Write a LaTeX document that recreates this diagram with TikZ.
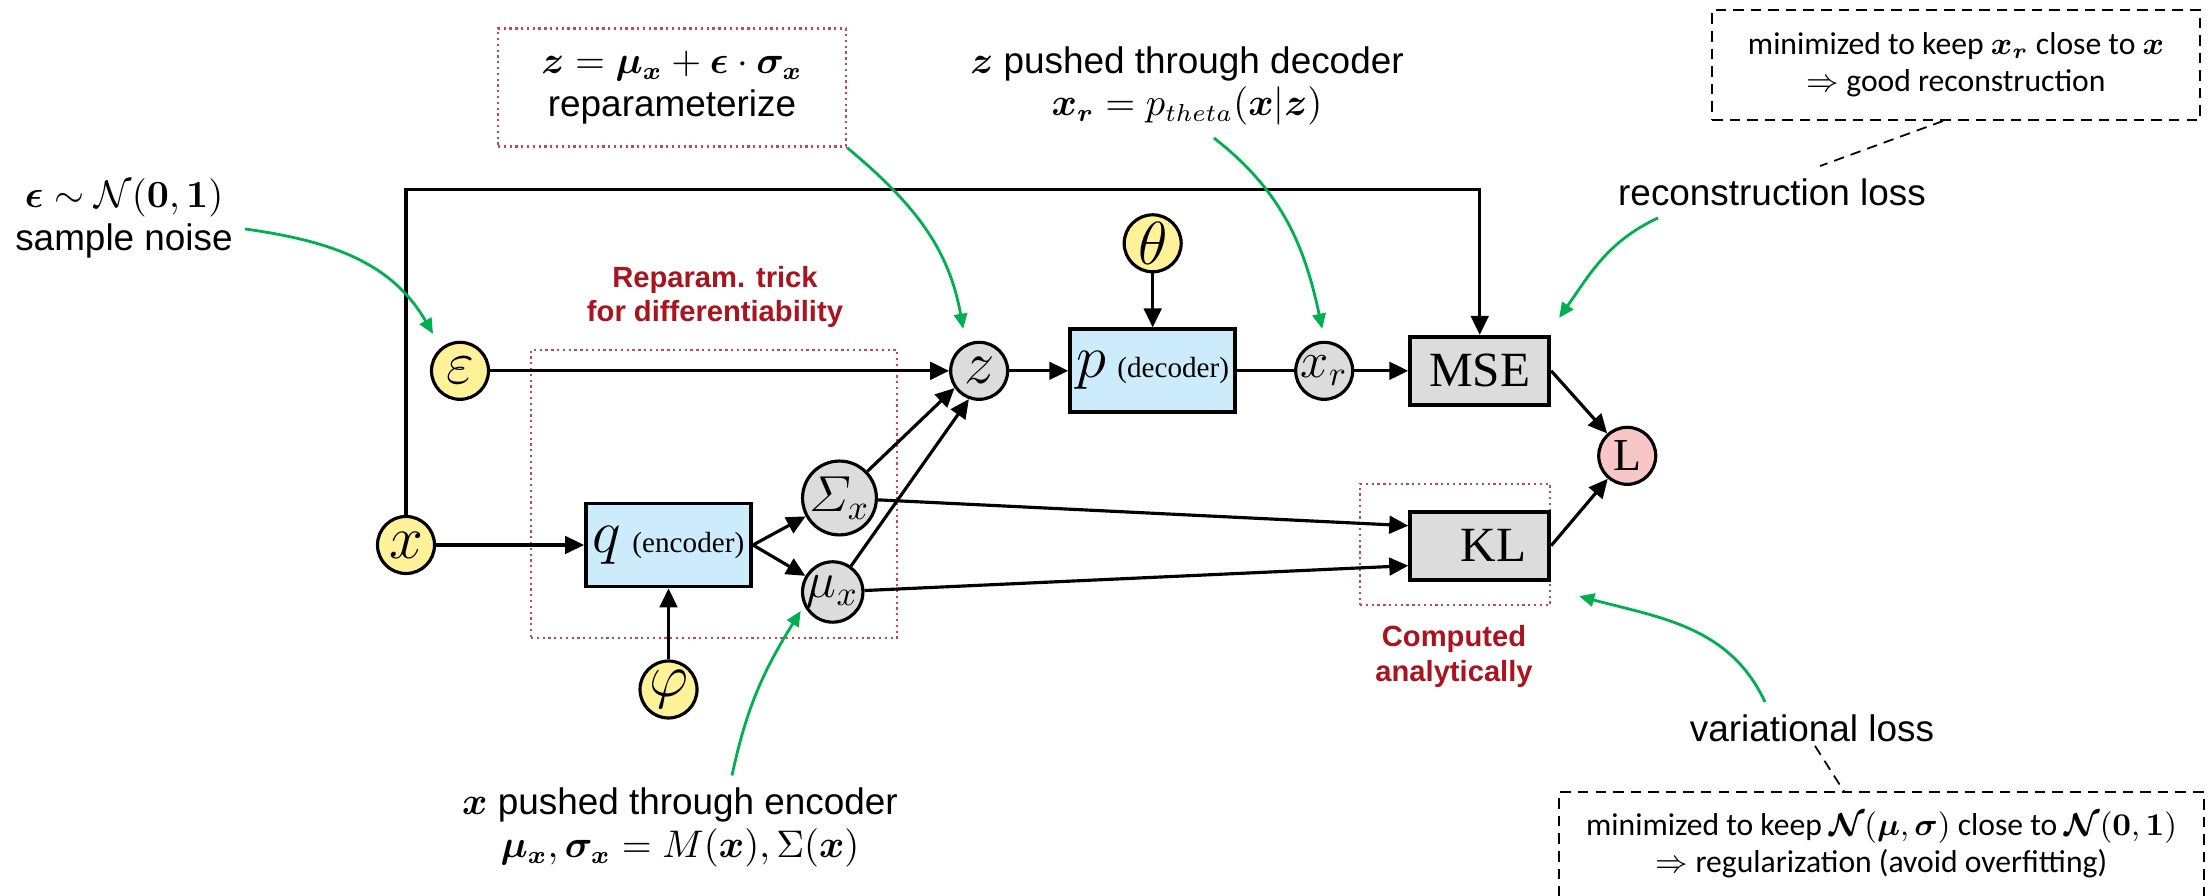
\documentclass[tikz,border=0pt]{standalone}
\usepackage{amsmath}
\usepackage{amssymb}
\usepackage{bm}
\usepackage[no-math]{fontspec}
\setmainfont{Liberation Sans}
\newfontfamily\timesfont{Liberation Serif}
\newfontfamily\calibrifont{Carlito}
\usepackage{tikz}
\usetikzlibrary{arrows.meta,positioning}

\definecolor{nodeyellow}{RGB}{255,242,153}
\definecolor{nodegray}{RGB}{220,220,220}
\definecolor{netblue}{RGB}{204,236,252}
\definecolor{losspink}{RGB}{248,198,198}
\definecolor{notegreen}{RGB}{0,176,80}
\definecolor{trickred}{RGB}{196,72,84}
\definecolor{labelred}{RGB}{170,20,30}

\begin{document}
\begin{tikzpicture}[
    observed/.style={circle, draw=black, line width=0.9pt, fill=nodeyellow, minimum size=5.7mm, inner sep=0pt, font=\fontsize{17}{17}\selectfont},
    latent/.style={circle, draw=black, line width=0.9pt, fill=nodegray, minimum size=5.7mm, inner sep=0pt, font=\fontsize{17}{17}\selectfont},
    lossnode/.style={circle, draw=black, line width=0.9pt, fill=losspink, minimum size=5.7mm, inner sep=0pt, font=\timesfont\fontsize{13}{13}\selectfont},
    netbox/.style={rectangle, draw=black, line width=1.1pt, fill=netblue, minimum width=1.65cm, minimum height=0.83cm, inner sep=1pt, font=\fontsize{19}{19}\selectfont},
    lossbox/.style={rectangle, draw=black, line width=1.1pt, fill=nodegray, minimum width=1.39cm, minimum height=0.68cm, inner sep=1pt, font=\timesfont\fontsize{14}{14}\selectfont},
    trickbox/.style={rectangle, draw=trickred, densely dotted, line width=0.65pt},
    trickfont/.style={font=\bfseries\fontsize{8.3}{9.7}\selectfont, text=labelred, align=center},
    note/.style={font=\fontsize{10.5}{12.2}\selectfont, align=center},
    remark/.style={font=\calibrifont\fontsize{9}{10.5}\selectfont, align=center},
    dashbox/.style={dash pattern=on 3pt off 2pt, line width=0.6pt},
    flow/.style={line width=0.9pt, -{Triangle[length=5.4pt, width=5pt]}},
    hint/.style={draw=notegreen, line width=0.8pt, -{Triangle[length=4.3pt, width=3.8pt]}}]

  \useasboundingbox (0,0) rectangle (22.12,8.96);

  % frames first, lines go over them
  \node[trickbox, minimum width=3.66cm, minimum height=2.88cm] (trick) at (7.14,4.02) {};
  \node[trickfont] (tricklabel) at (7.15,5.99) {Reparam. trick\\for differentiability};
  \node[trickbox, minimum width=1.90cm, minimum height=1.21cm] (klframe) at (14.55,3.515) {};
  \node[trickfont] (kllabel) at (14.54,2.395) {Computed\\analytically};

  % Define nodes
  \node[observed] (x) at (4.06,3.51) {$x$};
  \node[netbox, right=1.48cm of x] (q) {$q$\,{\timesfont\fontsize{8.3}{10}\selectfont (encoder)}};
  \node[observed, below=0.71cm of q] (phi) {$\varphi$};
  \node[latent, right=0.48cm of q, yshift=0.47cm, font=\fontsize{14}{14}\selectfont] (sigma) {$\varSigma_x$};
  \node[latent, right=0.48cm of q, yshift=-0.47cm, font=\fontsize{14}{14}\selectfont] (mu) {$\mu_x$};

  \node[observed, above=1.14cm of x, xshift=0.54cm] (eps) {$\varepsilon$};
  \node[latent, right=4.59cm of eps] (z) {$z$};
  \node[netbox, right=0.59cm of z] (p) {$p$\,{\timesfont\fontsize{8.3}{10}\selectfont (decoder)}};
  \node[observed, above=0.54cm of p] (theta) {$\theta$};
  \node[latent, right=0.57cm of p, font=\fontsize{14}{14}\selectfont] (xr) {$x_r$};

  \node[lossbox, right=0.54cm of xr] (mse) {MSE};
  \node[lossbox, below=1.03cm of mse] (kl) {\hspace*{0.28cm}KL};
  \node[lossnode, right=0.46cm of mse, yshift=-0.85cm] (L) {L};

  \coordinate[above=3.25cm of x] (xtop);

  % edges
  \draw[flow] (x) -- (xtop) -| (mse);
  \draw[flow] (x) -- (q);
  \draw[flow] (phi) -- (q);
  \draw[flow] (q.east) -- (sigma);
  \draw[flow] (q.east) -- (mu);
  \draw[flow] (eps) -- (z);
  \draw[flow] (sigma) -- (z.215);
  \draw[flow] (mu) -- (z.250);
  \draw[flow] (z) -- (p);
  \draw[flow] (theta) -- (p);
  \draw[line width=0.9pt] (p) -- (xr);
  \draw[flow] (xr) -- (mse);
  \draw[flow] (sigma) -- ([yshift=0.2cm]kl.west);
  \draw[flow] (mu) -- ([yshift=-0.2cm]kl.west);
  \draw[flow] (mse.east) -- (L);
  \draw[flow] (kl.east) -- (L);

  % annotations
  \node[note] (noisenote) at (1.24,6.78) {$\bm{\epsilon} \sim \mathcal{N}(\mathbf{0},\mathbf{1})$\\sample noise};
  \node[note, trickbox, minimum width=3.48cm, minimum height=1.18cm] (zeq) at (6.72,8.085) {$\bm{z} = \bm{\mu_x} + \bm{\epsilon}\cdot\bm{\sigma_x}$\\reparameterize};
  \node[note] (decnote) at (11.87,8.10) {$\bm{z}$ pushed through decoder\\$\bm{x_r} = p_{theta}(\bm{x}|\bm{z})$};
  \node[note] (encnote) at (6.80,0.685) {$\bm{x}$ pushed through encoder\\$\bm{\mu_x},\bm{\sigma_x} = M(\bm{x}),\Sigma(\bm{x})$};
  \node[note] (recloss) at (17.72,7.04) {reconstruction loss};
  \node[note] (varloss) at (18.12,1.68) {variational loss};

  \node[remark, draw, dashbox, minimum width=4.88cm, minimum height=1.10cm] (recbox) at (19.56,8.31) {minimized to keep $\bm{x_r}$ close to $\bm{x}$\\$\Rightarrow$ good reconstruction};
  \node[remark, minimum width=6.43cm, minimum height=1.03cm] (varbox) at (18.815,0.515) {minimized to keep $\bm{\mathcal{N}}(\bm{\mu},\bm{\sigma})$ close to $\bm{\mathcal{N}}(\mathbf{0},\mathbf{1})$\\$\Rightarrow$ regularization (avoid overfitting)};
  \draw[dashbox] (varbox.south west) -- (varbox.north west) -- (varbox.north east) -- (varbox.south east);

  \draw[hint] ([yshift=-1.1mm]noisenote.east) to[out=-8, in=120] ([shift={(-0.27,0.37)}]eps.center);
  \draw[hint] (zeq.south east) to[out=-40, in=100] ([shift={(-0.16,0.42)}]z.center);
  \draw[hint] ([xshift=0.27cm]decnote.south) to[out=-38, in=102] ([shift={(-0.02,0.42)}]xr.center);
  \draw[hint] ([xshift=-1.14cm]recloss.south) to[out=205, in=55] ([shift={(0.08,0.17)}]mse.north east);
  \draw[hint] ([xshift=-0.47cm]varloss.north) to[out=115, in=-15] ([shift={(0.28,0.10)}]klframe.south east);
  \draw[hint] ([xshift=0.52cm]encnote.north) to[out=78, in=-122] ([shift={(-0.32,-0.19)}]mu.center);

  \draw[dashbox, line width=0.5pt] ([xshift=-0.13cm]recbox.south) -- ([xshift=0.48cm]recloss.north);
  \draw[dashbox, line width=0.5pt] ([xshift=0.03cm, yshift=0.08cm]varloss.south) -- ([xshift=-0.37cm]varbox.north);

\end{tikzpicture}
\end{document}
